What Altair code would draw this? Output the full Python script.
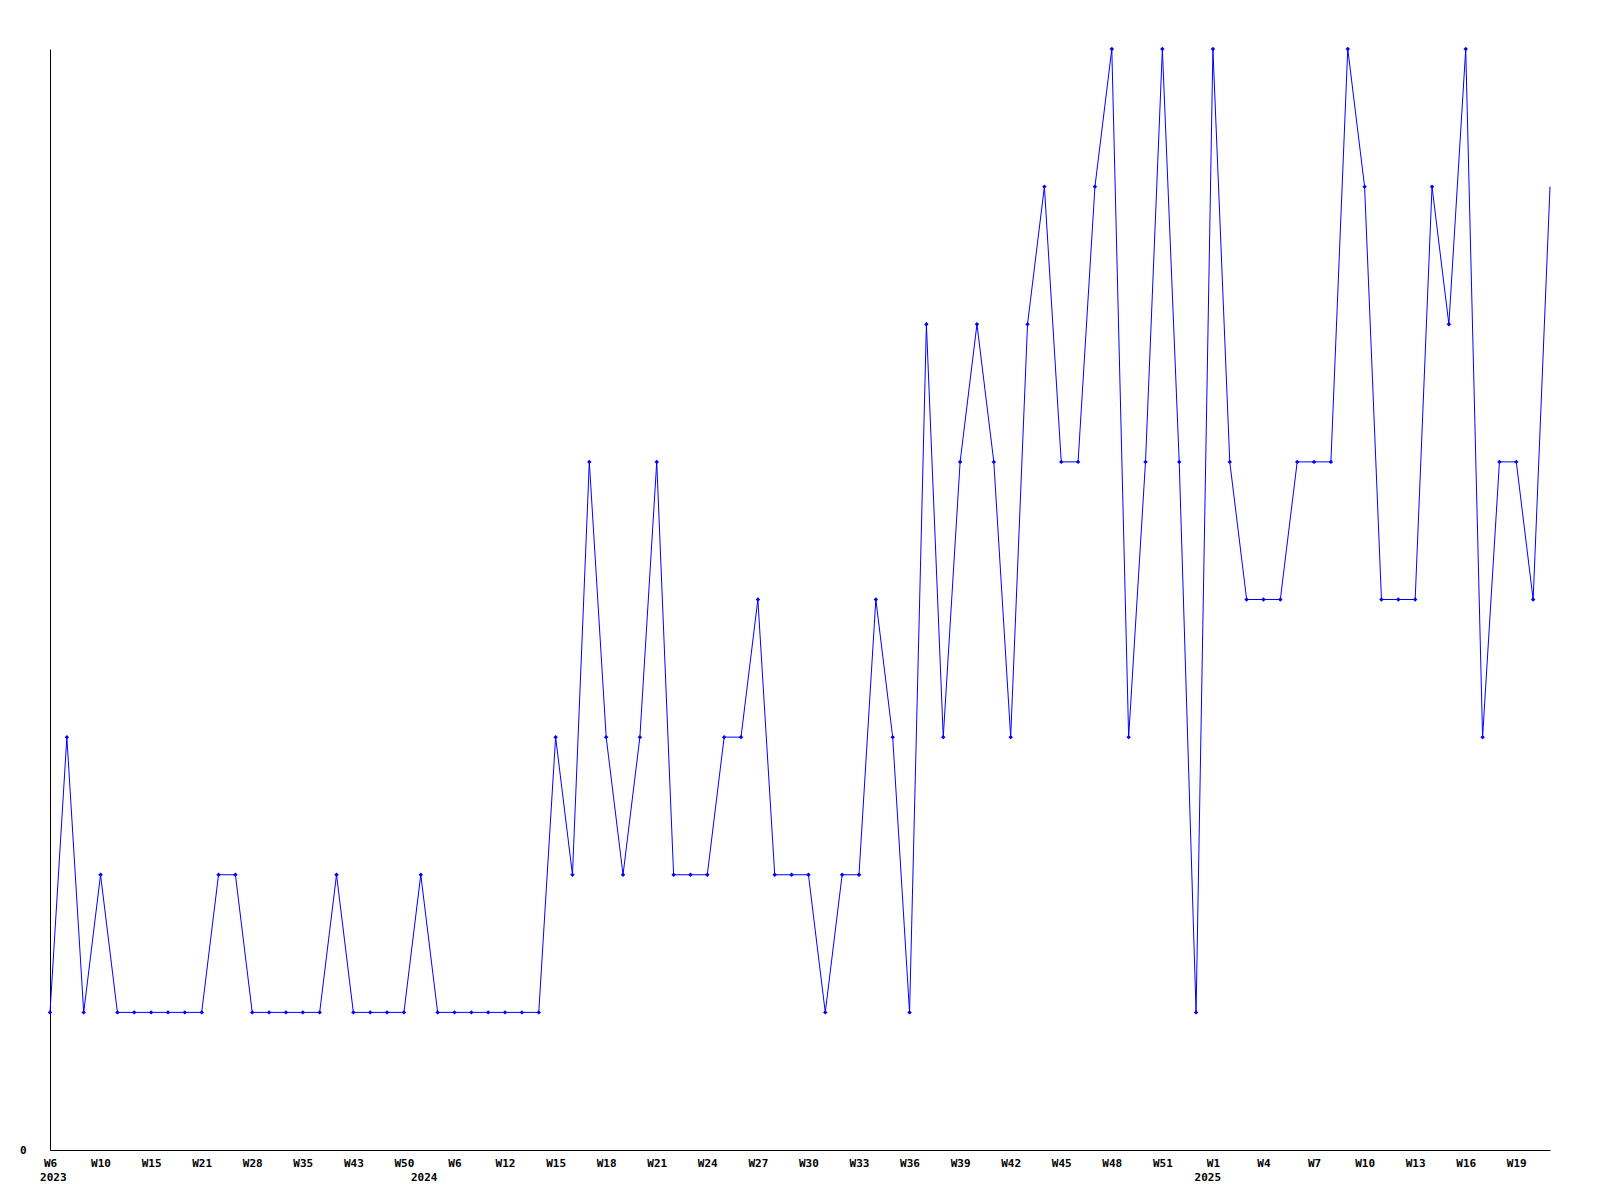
import altair as alt
import pandas as pd

values = [1, 3, 1, 2, 1, 1, 1, 1, 1, 1,
          2, 2, 1, 1, 1, 1, 1, 2, 1, 1,
          1, 1, 2, 1, 1, 1, 1, 1, 1, 1,
          3, 2, 5, 3, 2, 3, 5, 2, 2, 2,
          3, 3, 4, 2, 2, 2, 1, 2, 2, 4,
          3, 1, 6, 3, 5, 6, 5, 3, 6, 7,
          5, 5, 7, 8, 3, 5, 8, 5, 1, 8,
          5, 4, 4, 4, 5, 5, 5, 8, 7, 4,
          4, 4, 7, 6, 8, 3, 5, 5, 4, 7]

tick_labels = ["W6", "W10", "W15", "W21", "W28", "W35", "W43", "W50",
               "W6", "W12", "W15", "W18", "W21", "W24", "W27", "W30",
               "W33", "W36", "W39", "W42", "W45", "W48", "W51",
               "W1", "W4", "W7", "W10", "W13", "W16", "W19"]
years = ["2023", "2024", "2025"]
year_pos = [0.2, 22.2, 68.7]

W, H = 1500, 1101
FONT = "DejaVu Sans Mono"
BLUE = "#0000ff"

df = pd.DataFrame({"i": list(range(len(values))), "v": values})
dfy = pd.DataFrame({"p": year_pos, "yr": years})

label_expr = "[" + ",".join(f"'{l}'" for l in tick_labels) + "][round(datum.value/3)]"

xscale = alt.Scale(domain=[0, len(values) - 1], nice=False, zero=False)
xaxis = alt.Axis(values=list(range(0, len(values), 3)), labelExpr=label_expr,
                 ticks=False, grid=False, domainColor="black", domainWidth=1,
                 labelFont=FONT, labelFontWeight="bold", labelFontSize=11,
                 labelColor="black", labelPadding=7, labelFlush=False,
                 labelOverlap=False, labelBound=False, title=None)
yaxis = alt.Axis(values=[0], ticks=False, grid=False, domainColor="black",
                 domainWidth=1, labelFont=FONT, labelFontWeight="bold",
                 labelFontSize=11, labelColor="black", labelPadding=24,
                 labelBaseline="middle", title=None)

x = alt.X("i:Q", scale=xscale, axis=xaxis)
y = alt.Y("v:Q", scale=alt.Scale(domain=[0, 8], nice=False, zero=True), axis=yaxis)

line = alt.Chart(df).mark_line(color=BLUE, strokeWidth=1).encode(x=x, y=y)
pts = alt.Chart(df).transform_filter(
    f"datum.i < {len(values) - 1}"
).mark_point(shape="diamond", filled=True, size=20,
             color=BLUE, opacity=1).encode(x=x, y=y)
yrs = alt.Chart(dfy).mark_text(font=FONT, fontWeight="bold", fontSize=11,
                               color="black", align="center",
                               baseline="middle").encode(
    x=alt.X("p:Q", scale=xscale, axis=xaxis),
    y=alt.value(H + 28),
    text="yr:N")

chart = alt.layer(line, pts, yrs).properties(
    width=W, height=H,
    autosize=alt.AutoSizeParams(type="none"),
    padding={"left": 42, "top": 41, "right": 42, "bottom": 42},
    background="white",
).configure_view(stroke=None)

chart.save("out.html", embed_options={"renderer": "svg", "actions": False})
